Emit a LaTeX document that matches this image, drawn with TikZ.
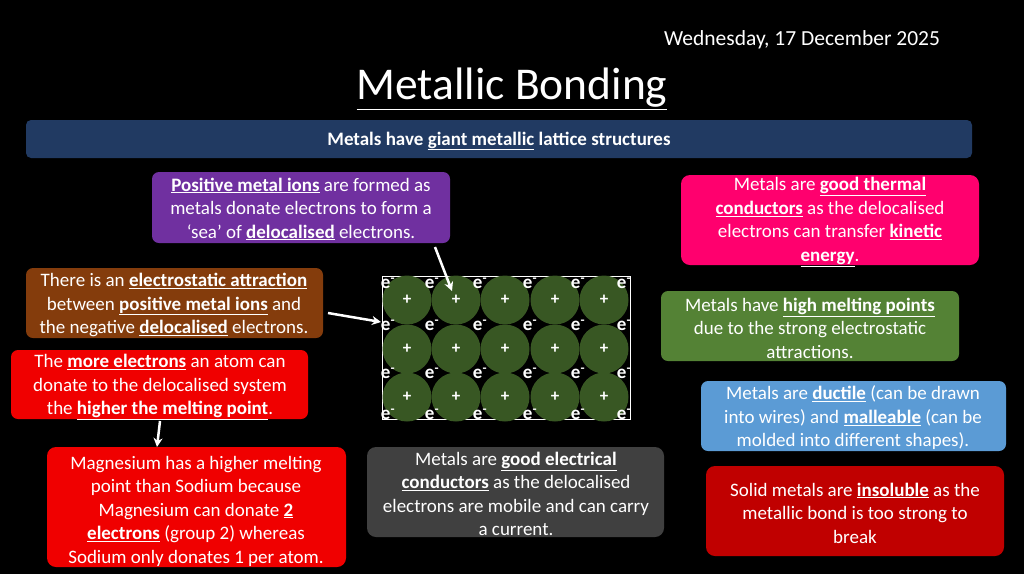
\documentclass[tikz,border=0pt]{standalone}
\usepackage{fontspec}
\usetikzlibrary{arrows.meta}
\setmainfont{Carlito}
\newcommand{\bu}[1]{\underline{\textbf{#1}}}
\begin{document}
\begin{tikzpicture}[x=1pt,y=-1pt,
 box/.style={rounded corners=6pt,align=center,text=white,font=\fontsize{19}{23.5}\selectfont,inner sep=0pt,anchor=center,yshift=-2pt},
 arr/.style={white,line width=2.5pt,-{Stealth[length=9pt,width=9pt]}},
 el/.style={text=white,font=\bfseries\fontsize{19}{19}\selectfont,inner sep=0pt}]
\fill[black] (0,0) rectangle (1024,574);
\useasboundingbox (0,0) rectangle (1024,574);
\node[text=white,font=\fontsize{21.5}{24}\selectfont] (date) at (802,40) {Wednesday, 17 December 2025};
\node[text=white,font=\fontsize{45.5}{50}\selectfont] (title) at (512,89) {\underline{Metallic Bonding}};
\fill[rounded corners=5pt,fill={rgb,255:red,33;green,58;blue,98}] (26,120) rectangle (972,158);
\node[box,font=\bfseries\fontsize{19}{20}\selectfont] (ban) at (499,139) {Metals have \underline{giant metallic} lattice structures};
\fill[rounded corners=7pt,fill={rgb,255:red,112;green,48;blue,160}] (152,172) rectangle (450,243);
\node[box] (pur) at (301,207) {\bu{Positive metal ions} are formed as\\metals donate electrons to form a\\‘sea’ of \bu{delocalised} electrons.};
\fill[rounded corners=7pt,fill={rgb,255:red,132;green,60;blue,12}] (26,268) rectangle (323,338);
\node[box] (bro) at (174,303) {There is an \bu{electrostatic attraction}\\between \bu{positive metal ions} and\\the negative \bu{delocalised} electrons.};
\fill[rounded corners=7pt,fill={rgb,255:red,240;green,0;blue,0}] (11,350) rectangle (308,419);
\node[box] (red) at (160,385) {The \bu{more electrons} an atom can\\donate to the delocalised system\\the \bu{higher the melting point}.};
\fill[rounded corners=9pt,fill={rgb,255:red,240;green,0;blue,0}] (47,447) rectangle (346,567);
\node[box] (mg) at (196,509) {Magnesium has a higher melting\\point than Sodium because\\Magnesium can donate \bu{2}\\\bu{electrons} (group 2) whereas\\Sodium only donates 1 per atom.};
\fill[rounded corners=9pt,fill={rgb,255:red,64;green,64;blue,64}] (367,447) rectangle (664,537);
\node[box] (gr) at (516,492) {Metals are \bu{good electrical}\\\bu{conductors} as the delocalised\\electrons are mobile and can carry\\a current.};
\fill[rounded corners=9pt,fill={rgb,255:red,255;green,0;blue,110}] (681,175) rectangle (979,265);
\node[box] (pk) at (830,220) {Metals are \bu{good thermal}\\\bu{conductors} as the delocalised\\electrons can transfer \bu{kinetic}\\\bu{energy}.};
\fill[rounded corners=7pt,fill={rgb,255:red,84;green,130;blue,53}] (661,291) rectangle (959,361);
\node[box] (gn) at (810,326) {Metals have \bu{high melting points}\\due to the strong electrostatic\\attractions.};
\fill[rounded corners=7pt,fill={rgb,255:red,91;green,155;blue,213}] (701,381) rectangle (1006,451);
\node[box] (bl) at (853,416) {Metals are \bu{ductile} (can be drawn\\into wires) and \bu{malleable} (can be\\molded into different shapes).};
\fill[rounded corners=9pt,fill={rgb,255:red,192;green,0;blue,0}] (706,466) rectangle (1004,556);
\node[box] (dr) at (855,511) {Solid metals are \bu{insoluble} as the\\metallic bond is too strong to\\break};
% lattice
\draw[white,line width=0.8pt] (382,276) rectangle (630,419);
\foreach \i/\x in {0/407,1/456,2/505,3/555,4/604}
 \foreach \j/\y in {0/300,1/349,2/397}{
  \fill[fill={rgb,255:red,56;green,87;blue,35}] (\x,\y) circle (24.5);
  \node[text=white,font=\bfseries\fontsize{17}{17}\selectfont] (p\i\j) at (\x,\y) {+};
 }
\foreach \x in {388,432,480,530,578,624}
 \foreach \y in {283,325,373,414}
  \node[el] at (\x,\y) {e\textsuperscript{-}};
\coordinate (s1) at (435,247);
\coordinate (t1) at (452,291);
\coordinate (s2) at (328,313);
\coordinate (t2) at (381,322);
\coordinate (s3) at (160,421);
\coordinate (t3) at (157,447);
\draw[arr] (s1) -- (t1);
\draw[arr] (s2) -- (t2);
\draw[arr] (s3) -- (t3);
\end{tikzpicture}
\end{document}
